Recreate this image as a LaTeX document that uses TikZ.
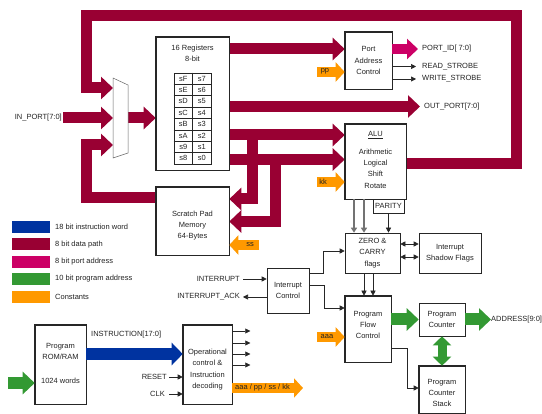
\documentclass[tikz,border=0pt]{standalone}
\usepackage{fontspec}
\setmainfont{Liberation Sans}
\usetikzlibrary{arrows.meta}
\definecolor{dred}{RGB}{153,0,51}
\definecolor{dpink}{RGB}{204,0,102}
\definecolor{dgreen}{RGB}{51,153,51}
\definecolor{dblue}{RGB}{0,51,160}
\definecolor{dorange}{RGB}{255,153,0}
\definecolor{txt}{RGB}{35,35,35}
\begin{document}
\begin{tikzpicture}[x=1pt,y=-1pt,
  font=\fontsize{7.5}{11.3}\selectfont, text=txt,
  box/.style={draw=black!85, line width=0.6pt, fill=white, inner sep=0pt, align=center},
  lbl/.style={inner sep=0pt, align=center},
  busline/.style={line width=11pt, draw=dred},
  bus/.style={busline, -{Triangle[length=12pt,width=22pt]}},
  pinkbus/.style={line width=10pt, draw=dpink, -{Triangle[length=11pt,width=20pt]}},
  greenbus/.style={line width=12pt, draw=dgreen, -{Triangle[length=12pt,width=22pt]}},
  greendbl/.style={line width=9pt, draw=dgreen, {Triangle[length=9pt,width=18pt]}-{Triangle[length=9pt,width=18pt]}},
  bluebus/.style={line width=12pt, draw=dblue, -{Triangle[length=11pt,width=22pt]}},
  orangebus/.style={line width=10pt, draw=dorange, -{Triangle[length=9pt,width=19pt]}},
  sig/.style={draw=black!85, line width=0.6pt, -{Triangle[length=5pt,width=5pt]}},
  dsig/.style={draw=black!85, line width=0.6pt, {Triangle[length=5pt,width=5pt]}-{Triangle[length=5pt,width=5pt]}},
  gsig/.style={draw=black!55, line width=1.3pt, -{Triangle[length=5pt,width=6pt]}},
  legbox/.style={minimum width=38pt, minimum height=12pt, inner sep=0pt}
]
\useasboundingbox (0,0) rectangle (542,414);
\fill[white] (0,0) rectangle (542,414);

% ---- mux
\coordinate (muxin1) at (113,88);
\coordinate (muxin2) at (113,118);
\coordinate (muxin3) at (113,145);
\coordinate (muxout) at (128,118);

% ---- boxes (defined first for anchors)
\node[box, minimum width=73pt, minimum height=133pt] (reg) at (192.5,103.5) {};
\node[box, minimum width=73pt, minimum height=68pt] (spm) at (192.5,221) {};
\node[box, minimum width=47pt, minimum height=57pt] (pac) at (368.5,60.5) {Port\\Address\\Control};
\node[box, minimum width=61pt, minimum height=75pt] (alu) at (375.5,161.5) {};
\node[box, minimum width=31pt, minimum height=14pt] (par) at (388.5,206) {PARITY};
\node[box, minimum width=55pt, minimum height=40pt] (zc) at (372.5,253) {ZERO \&\\CARRY\\flags};
\node[box, minimum width=62pt, minimum height=40pt] (isf) at (450,253) {Interrupt\\Shadow Flags};
\node[box, minimum width=42pt, minimum height=45pt] (ic) at (288,290.5) {Interrupt\\Control};
\node[box, minimum width=46pt, minimum height=66pt] (pfc) at (368,329) {};
\node[box, minimum width=46pt, minimum height=33pt] (pc) at (442,319.5) {Program\\Counter};
\node[box, minimum width=46pt, minimum height=47pt] (pcs) at (442,389.5) {};
\node[box, minimum width=51pt, minimum height=79pt] (rom) at (60.5,364.5) {};
\node[box, minimum width=49pt, minimum height=79pt] (opc) at (207.5,364.5) {};

% ---- data buses
\draw[bus] (alu.east |- 0,164) -- (516,164) -- (516,15.5) -- (86.5,15.5) -- (86.5,88) -- (muxin1);
\draw[bus] (spm.west |- 0,197.5) -- (86.5,197.5) -- (86.5,145) -- (muxin3);
\node[lbl, anchor=east] (inport) at (62,118) {IN\_PORT[7:0]};
\draw[bus] ([xshift=1pt]inport.east) -- (muxin2);
\draw[bus] (muxout) -- (reg.west |- muxout);
\draw[bus] (reg.east |- 0,49) -- (pac.west |- 0,49);
\node[lbl, anchor=west] (outport) at (424,106.5) {OUT\_PORT[7:0]};
\draw[bus] (reg.east |- 0,106.5) -- ([xshift=-4pt]outport.west);
\draw[bus] (reg.east |- 0,135) -- (alu.west |- 0,135);
\draw[bus] (reg.east |- 0,159.5) -- (alu.west |- 0,159.5);
\draw[bus] (252.5,135) -- (252.5,199) -- (spm.east |- 0,199);
\draw[bus] (275,159.5) -- (275,221.5) -- (spm.east |- 0,221.5);

% ---- mux shape
\draw[draw=black!60, line width=0.5pt, fill=white] (113,78) -- (128,85) -- (128,153) -- (113,158) -- cycle;

% ---- redraw boxes on top
\foreach \n in {reg,spm,pac,alu,pfc,pcs,rom,opc} {\draw[draw=black!85, line width=0.6pt] (\n.north west) rectangle (\n.south east);}

% ---- registers content
\node[lbl] (regt) at (192.5,53.5) {16 Registers\\8-bit};
\node[draw=black!85, line width=0.6pt, minimum width=37pt, minimum height=91pt, inner sep=0pt] (regtab) at (192.5,118.5) {};
\foreach \i in {1,...,7} {\draw[black!85, line width=0.5pt] (regtab.west |- 0,{73+\i*11.375}) -- (regtab.east |- 0,{73+\i*11.375});}
\draw[black!85, line width=0.5pt] (regtab.north) -- (regtab.south);
\foreach \a/\b [count=\i from 0] in {sF/s7,sE/s6,sD/s5,sC/s4,sB/s3,sA/s2,s9/s1,s8/s0} {
  \node[lbl] (rl\i) at (183.25,{73+(\i+0.5)*11.375}) {\a};
  \node[lbl] (rr\i) at (201.75,{73+(\i+0.5)*11.375}) {\b};
}

% ---- scratch pad
\node[lbl] (spmt) at (192.5,225.5) {Scratch Pad\\Memory\\64-Bytes};
% ---- ALU text
\node[lbl] (alut) at (375.5,135) {\underline{ALU}};
\node[lbl] (alud) at (375.5,168.5) {Arithmetic\\Logical\\Shift\\Rotate};
% ---- PFC / stack / rom / opc text
\node[lbl] (pfct) at (368,325) {Program\\Flow\\Control};
\node[lbl] (pcst) at (442,393) {Program\\Counter\\Stack};
\node[lbl] (romt) at (60.5,351.5) {Program\\ROM/RAM};
\node[lbl] (romw) at (60.5,381) {1024 words};
\node[lbl] (opct) at (207.5,369.5) {Operational\\control \&\\Instruction\\decoding};

% ---- port outputs
\node[lbl, anchor=west] (portid) at (422,49) {PORT\_ID[ 7:0]};
\draw[pinkbus] (pac.east |- 0,49) -- (418,49);
\node[lbl, anchor=west] (rds) at (422,66.5) {READ\_STROBE};
\node[lbl, anchor=west] (wrs) at (422,79) {WRITE\_STROBE};
\draw[sig] (pac.east |- rds) -- ([xshift=-6pt]rds.west);
\draw[sig] (pac.east |- wrs) -- ([xshift=-6pt]wrs.west);

% ---- constants
\coordinate (ppst) at (317,72);
\draw[orangebus] (ppst) -- (pac.west |- ppst);
\node[lbl, text=txt] (ppt) at (325,71.5) {pp};
\coordinate (kkst) at (317,182);
\draw[orangebus] (kkst) -- (alu.west |- kkst);
\node[lbl] (kkt) at (323,181.5) {kk};
\coordinate (aaast) at (317,337);
\draw[orangebus] (aaast) -- (pfc.west |- aaast);
\node[lbl] (aaat) at (327,337) {aaa};
\coordinate (ssst) at (259,245);
\draw[orangebus] (ssst) -- (spm.east |- ssst);
\node[lbl] (sst) at (250,244.5) {ss};
\coordinate (cend) at (303,388);
\draw[orangebus] (opc.east |- cend) -- (cend);
\node[lbl, anchor=west] (ct) at (235,388) {aaa / pp / ss / kk};

% ---- flags
\draw[gsig] (354,0 |- alu.south) -- (354,0 |- zc.north);
\draw[gsig] (364,0 |- alu.south) -- (364,0 |- zc.north);
\draw[sig] (par.south) -- (par.south |- zc.north);
\draw[dsig] (zc.east |- 0,244) -- (isf.west |- 0,244);
\draw[dsig] (zc.east |- 0,257) -- (isf.west |- 0,257);
\draw[sig] (364,0 |- zc.south) -- (364,0 |- pfc.north);
\draw[sig] (373,0 |- zc.south) -- (373,0 |- pfc.north);

% ---- interrupts
\node[lbl, anchor=east] (intr) at (240,279) {INTERRUPT};
\node[lbl, anchor=east] (iack) at (240,297) {INTERRUPT\_ACK};
\draw[sig] ([xshift=3pt]intr.east) -- (ic.west |- intr);
\draw[sig] (ic.west |- iack) -- ([xshift=3pt]iack.east);
\draw[sig] (ic.east |- 0,273) -- (323,273) -- (323,251) -- (zc.west |- 0,251);
\draw[sig] (ic.east |- 0,285) -- (324,285) -- (324,308) -- (pfc.west |- 0,308);

% ---- program counter
\draw[greenbus] (pfc.east |- 0,319.5) -- (pc.west |- 0,319.5);
\node[lbl, anchor=west] (addr) at (491,319.5) {ADDRESS[9:0]};
\draw[greenbus] (pc.east) -- (addr.west);
\draw[greendbl] (pc.south) -- (pcs.north);
\draw[sig] (pfc.east |- 0,348) -- (407,348) -- (407,388) -- (pcs.west |- 0,388);

% ---- program memory / decoder
\coordinate (romin) at (8,383);
\draw[greenbus] (romin) -- (rom.west |- romin);
\node[lbl, anchor=west] (instr) at (91,335) {INSTRUCTION[17:0]};
\draw[bluebus] (rom.east |- 0,354) -- (opc.west |- 0,354);
\foreach \yy in {331,343,354,365} {\draw[sig] (opc.east |- 0,\yy) -- ++(18,0);}
\node[lbl, anchor=east] (rst) at (167,377) {RESET};
\node[lbl, anchor=east] (clk) at (165,394) {CLK};
\draw[sig] (169,377) -- (opc.west |- rst);
\draw[sig] (169,394) -- (opc.west |- clk);

% ---- legend
\node[legbox, fill=dblue] (lg1) at (31,227) {};
\node[legbox, fill=dred] (lg2) at (31,244.5) {};
\node[legbox, fill=dpink] (lg3) at (31,262) {};
\node[legbox, fill=dgreen] (lg4) at (31,279) {};
\node[legbox, fill=dorange] (lg5) at (31,297) {};
\node[lbl, anchor=west] (lt1) at (55,227) {18 bit instruction word};
\node[lbl, anchor=west] (lt2) at (55,244.5) {8 bit data path};
\node[lbl, anchor=west] (lt3) at (55,262) {8 bit port address};
\node[lbl, anchor=west] (lt4) at (55,279) {10 bit program address};
\node[lbl, anchor=west] (lt5) at (55,297) {Constants};
\end{tikzpicture}
\end{document}
